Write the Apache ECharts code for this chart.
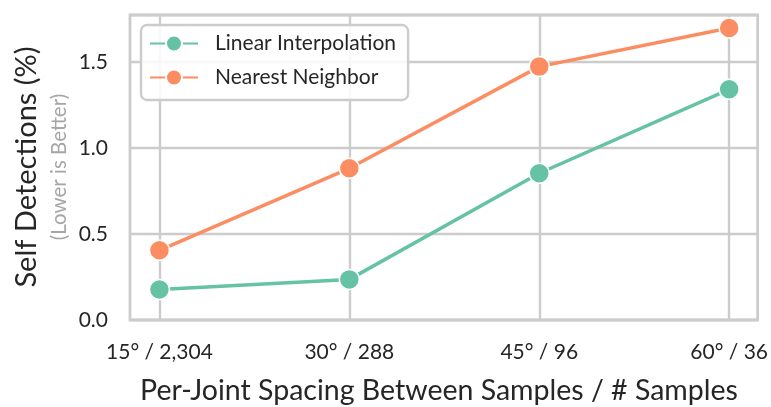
<!DOCTYPE html>
<html>
<head>
<meta charset="utf-8">
<script src="https://cdn.jsdelivr.net/npm/echarts@6/dist/echarts.min.js"></script>
<style>
  html, body { margin: 0; padding: 0; background: #fff; }
  #chart { width: 771px; height: 407px; }
</style>
</head>
<body>
<div id="chart"></div>
<script>
// Tick labels for each sampling resolution (angle spacing / number of samples)
const categories = ['15° / 2,304', '30° / 288', '45° / 96', '60° / 36'];
// Self detections (%) per method
const linearInterp = [0.177, 0.236, 0.853, 1.341];
const nearestNeighbor = [0.405, 0.882, 1.473, 1.697];
const yTicks = [0, 0.5, 1.0, 1.5];

const FONT = 'Lato, "DejaVu Sans", sans-serif';
const TEXT = '#262626';
const GRID = '#cccccc';

const chart = echarts.init(document.getElementById('chart'), null, { renderer: 'canvas' });

function toPairs(vals) {
  return vals.map((v, i) => [i, v]);
}

function lineSeries(name, color, vals, z) {
  return {
    name: name,
    type: 'line',
    data: toPairs(vals),
    z: z,
    symbol: 'circle',
    symbolSize: 20,
    lineStyle: { color: color, width: 3.5 },
    itemStyle: { color: color, borderColor: '#ffffff', borderWidth: 1.5 },
    emphasis: { disabled: true },
    animation: false
  };
}

chart.setOption({
  animation: false,
  backgroundColor: '#ffffff',
  grid: {
    left: 130, right: 13, top: 15, bottom: 87,
    show: true, borderColor: GRID, borderWidth: 2.8, backgroundColor: 'transparent'
  },
  xAxis: {
    type: 'value',
    min: -0.155,
    max: 3.15,
    axisLine: { show: false },
    axisTick: { show: false, customValues: [0, 1, 2, 3] },
    splitLine: { show: true, lineStyle: { color: GRID, width: 2.4 } },
    axisLabel: {
      customValues: [0, 1, 2, 3],
      formatter: v => categories[Math.round(v)],
      color: TEXT, fontFamily: FONT, fontSize: 21, margin: 22
    }
  },
  yAxis: {
    type: 'value',
    min: 0,
    max: 1.773,
    interval: 0.5,
    axisLine: { show: false },
    axisTick: { show: false },
    splitLine: { show: true, lineStyle: { color: GRID, width: 2.4 } },
    axisLabel: {
      showMaxLabel: false,
      formatter: v => (yTicks.indexOf(v) >= 0 ? v.toFixed(1) : ''),
      color: TEXT, fontFamily: FONT, fontSize: 21, margin: 22
    }
  },
  legend: {
    orient: 'vertical',
    left: 141, top: 25,
    padding: [8, 12, 12, 8],
    itemGap: 13,
    itemWidth: 48, itemHeight: 20,
    backgroundColor: 'rgba(255,255,255,0.85)',
    borderColor: GRID, borderWidth: 2.4, borderRadius: 6,
    textStyle: { color: TEXT, fontFamily: FONT, fontSize: 21, lineHeight: 20, padding: [0, 0, 0, 12] },
    data: ['Linear Interpolation', 'Nearest Neighbor']
  },
  graphic: [
    {
      type: 'text', x: 27, y: 167, rotation: Math.PI / 2,
      style: { text: 'Self Detections (%)', fill: TEXT, fontFamily: FONT, fontSize: 29, textAlign: 'center', textVerticalAlign: 'middle' }
    },
    {
      type: 'text', x: 59, y: 167, rotation: Math.PI / 2,
      style: { text: '(Lower is Better)', fill: '#a6a6a6', fontFamily: FONT, fontSize: 20.5, textAlign: 'center', textVerticalAlign: 'middle' }
    },
    {
      type: 'text', x: 439, y: 391,
      style: { text: 'Per-Joint Spacing Between Samples / # Samples', fill: TEXT, fontFamily: FONT, fontSize: 28.5, textAlign: 'center', textVerticalAlign: 'middle' }
    }
  ],
  series: [
    lineSeries('Linear Interpolation', '#66c2a5', linearInterp, 3),
    lineSeries('Nearest Neighbor', '#fc8d62', nearestNeighbor, 4)
  ]
});
</script>
</body>
</html>
